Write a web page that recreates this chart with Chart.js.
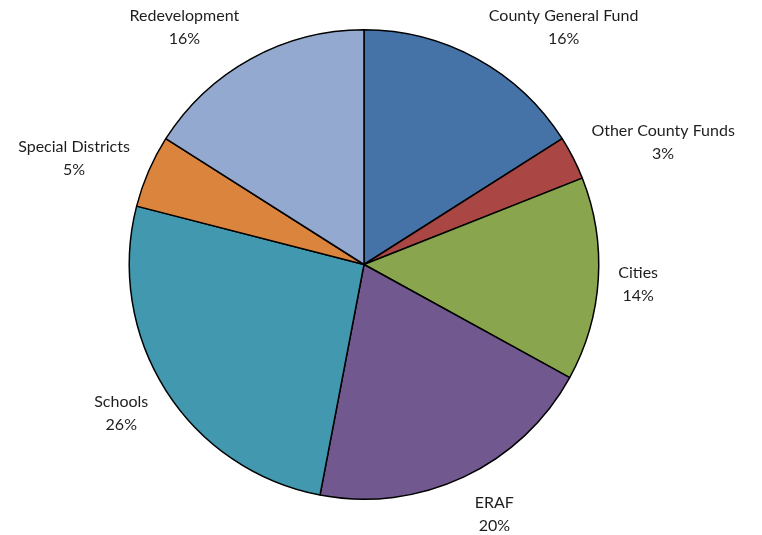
<!DOCTYPE html>
<html>
<head>
<meta charset="utf-8">
<script src="https://cdn.jsdelivr.net/npm/chart.js@4"></script>
<style>
  html, body { margin: 0; padding: 0; background: #fff; }
  #wrap { width: 762px; height: 535px; }
</style>
</head>
<body>
<div id="wrap"><canvas id="chart" width="762" height="535"></canvas></div>
<script>
// Property tax revenue shares by recipient (percent)
const categories = [
  'County General Fund',
  'Other County Funds',
  'Cities',
  'ERAF',
  'Schools',
  'Special Districts',
  'Redevelopment'
];
const shares = [16, 3, 14, 20, 26, 5, 16];
const sliceColors = ['#4572A7', '#AA4643', '#89A54E', '#71588F', '#4198AF', '#DB843D', '#93A9CF'];

const LABEL_FONT = '16px Lato';
const LINE_H = 23;
const BASELINE_SHIFT = 2.5;

// Two-line category/percent labels placed just outside each slice
const outsideLabels = {
  id: 'outsideLabels',
  afterDatasetsDraw(chart) {
    const ctx = chart.ctx;
    const meta = chart.getDatasetMeta(0);
    ctx.save();
    ctx.font = LABEL_FONT;
    ctx.fillStyle = '#1e1e1e';
    ctx.textAlign = 'center';
    ctx.textBaseline = 'middle';
    meta.data.forEach((arc, i) => {
      const p = arc.getProps(['x', 'y', 'startAngle', 'endAngle', 'outerRadius'], true);
      const mid = (p.startAngle + p.endAngle) / 2;
      const c = Math.cos(mid), s = Math.sin(mid);
      const r = p.outerRadius + 16;
      const ax = p.x + c * r, ay = p.y + s * r;
      const line1 = categories[i];
      const line2 = shares[i] + '%';
      const w = Math.max(ctx.measureText(line1).width, ctx.measureText(line2).width);
      const h = LINE_H * 2;
      const cx = ax + Math.sign(c) * (w / 2 + 4);
      const cy = ay + s * h / 2 + BASELINE_SHIFT;
      ctx.fillText(line1, cx, cy - LINE_H / 2);
      ctx.fillText(line2, cx, cy + LINE_H / 2);
    });
    ctx.restore();
  }
};

new Chart(document.getElementById('chart'), {
  type: 'pie',
  data: {
    labels: categories,
    datasets: [{
      data: shares,
      backgroundColor: sliceColors,
      borderColor: '#000',
      borderWidth: 1.5
    }]
  },
  options: {
    responsive: false,
    animation: false,
    layout: { padding: { top: 29, bottom: 35, left: 0, right: 34 } },
    plugins: {
      legend: { display: false },
      tooltip: { enabled: false }
    }
  },
  plugins: [outsideLabels]
});
</script>
</body>
</html>
